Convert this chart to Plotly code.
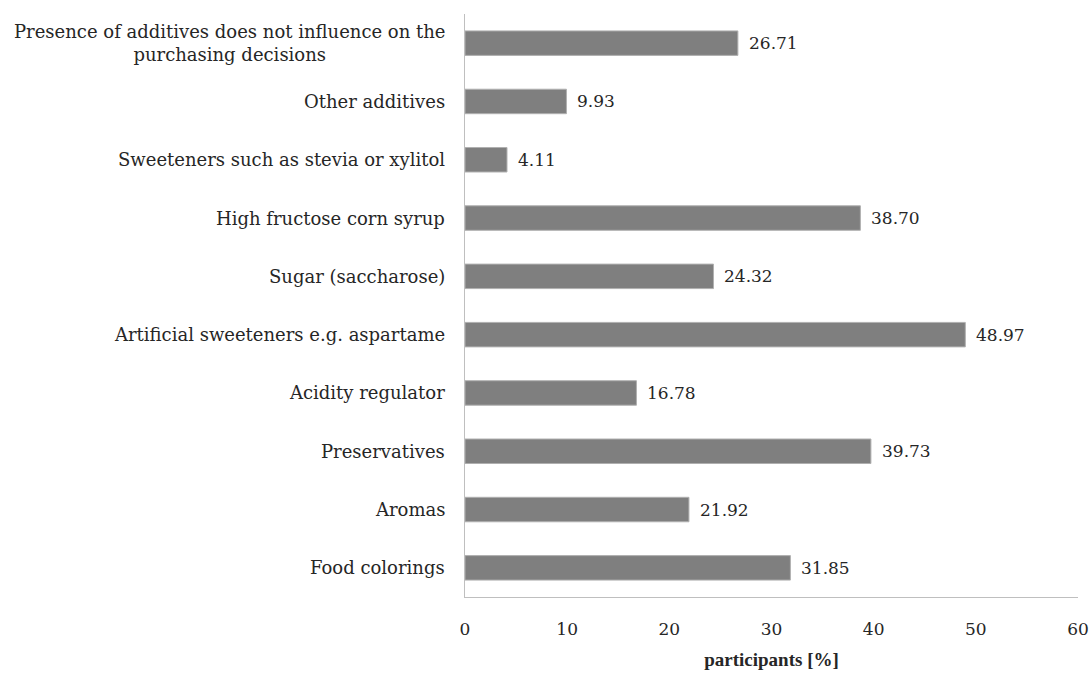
import plotly.graph_objects as go

categories = [
    "Food colorings",
    "Aromas",
    "Preservatives",
    "Acidity regulator",
    "Artificial sweeteners e.g. aspartame",
    "Sugar (saccharose)",
    "High fructose corn syrup",
    "Sweeteners such as stevia or xylitol",
    "Other additives",
    "Presence of additives does not influence on the<br>purchasing decisions",
]
values = [31.85, 21.92, 39.73, 16.78, 48.97, 24.32, 38.70, 4.11, 9.93, 26.71]
x_ticks = [0, 10, 20, 30, 40, 50, 60]

FONT = "DejaVu Serif"
TXT = "#262626"

fig = go.Figure()
fig.add_trace(go.Bar(
    y=categories,
    x=values,
    orientation="h",
    marker=dict(color="#7f7f7f", line=dict(color="#b0b0b0", width=1)),
    width=0.42,
))

for c, v in zip(categories, values):
    fig.add_annotation(
        x=0, y=c, xref="paper", yref="y",
        text=c, showarrow=False, xanchor="right", align="center",
        xshift=-18, font=dict(family=FONT, size=18, color=TXT),
    )
    fig.add_annotation(
        x=v, y=c, xref="x", yref="y",
        text=f"{v:.2f}", showarrow=False, xanchor="left",
        xshift=9, font=dict(family=FONT, size=17, color=TXT),
    )

fig.update_layout(
    width=1092, height=677,
    margin=dict(l=465, r=14, t=14, b=80, autoexpand=False),
    paper_bgcolor="white", plot_bgcolor="white",
    showlegend=False,
    bargap=0.57,
)
fig.update_xaxes(
    automargin=False,
    range=[0, 60], tickvals=x_ticks, showgrid=False, zeroline=False,
    showline=True, linecolor="#bfbfbf", linewidth=1.3,
    ticks="", tickfont=dict(family=FONT, size=17, color=TXT),
    ticklabelstandoff=16,
    title=dict(text="<b>participants [%]</b>", font=dict(family="Liberation Serif", size=19, color=TXT)),
)
fig.update_yaxes(
    automargin=False,
    showticklabels=False, showgrid=False, zeroline=False,
    showline=True, linecolor="#bfbfbf", linewidth=1.3, ticks="",
    range=[-0.5, 9.5],
)

fig.write_html("out.html")
